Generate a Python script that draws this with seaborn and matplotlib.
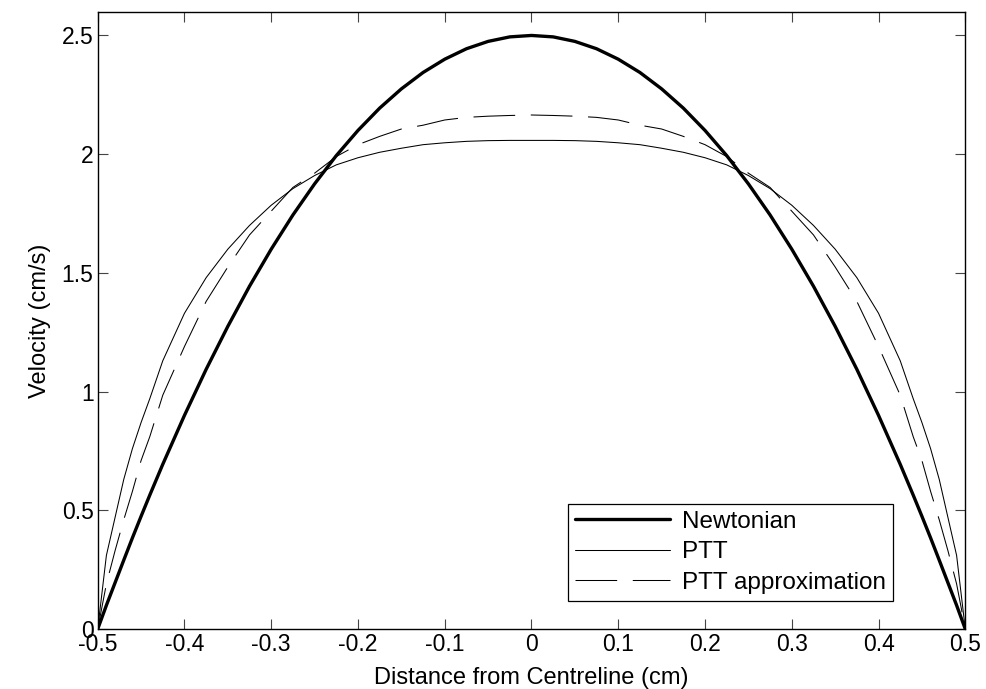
import numpy as np
import pandas as pd
import matplotlib
matplotlib.use("Agg")
import matplotlib.pyplot as plt
import seaborn as sns

# Distance from centreline (cm)
x = [-0.5, -0.49, -0.48, -0.47, -0.46, -0.45, -0.44, -0.425, -0.4, -0.375, -0.35,
     -0.325, -0.3, -0.275, -0.25, -0.225, -0.2, -0.175, -0.15, -0.125, -0.1,
     -0.075, -0.05, -0.025, 0.0, 0.025, 0.05, 0.075, 0.1, 0.125, 0.15, 0.175,
     0.2, 0.225, 0.25, 0.275, 0.3, 0.325, 0.35, 0.375, 0.4, 0.425, 0.44, 0.45,
     0.46, 0.47, 0.48, 0.49, 0.5]

newtonian = [0.0, 0.10, 0.195, 0.29, 0.384, 0.475, 0.564, 0.694, 0.90, 1.094, 1.275,
             1.444, 1.60, 1.744, 1.875, 1.994, 2.10, 2.194, 2.275, 2.344, 2.40,
             2.444, 2.475, 2.494, 2.50, 2.494, 2.475, 2.444, 2.40, 2.344, 2.275, 2.194,
             2.10, 1.994, 1.875, 1.744, 1.60, 1.444, 1.275, 1.094, 0.90, 0.694, 0.564, 0.475,
             0.384, 0.29, 0.195, 0.10, 0.0]

ptt = [0.0, 0.31, 0.47, 0.63, 0.76, 0.87, 0.97, 1.13, 1.33, 1.48, 1.60,
       1.70, 1.785, 1.855, 1.91, 1.955, 1.985, 2.008, 2.025, 2.04, 2.048,
       2.054, 2.057, 2.058, 2.058, 2.058, 2.057, 2.054, 2.048, 2.04, 2.025, 2.008,
       1.985, 1.955, 1.91, 1.855, 1.785, 1.70, 1.60, 1.48, 1.33, 1.13, 0.97, 0.87,
       0.76, 0.63, 0.47, 0.31, 0.0]

ptt_approx = [0.0, 0.19, 0.33, 0.46, 0.58, 0.71, 0.81, 0.985, 1.19, 1.38, 1.525,
              1.66, 1.76, 1.86, 1.92, 1.99, 2.04, 2.075, 2.106, 2.122, 2.144,
              2.155, 2.16, 2.163, 2.165, 2.163, 2.16, 2.155, 2.144, 2.122, 2.106, 2.075,
              2.04, 1.99, 1.92, 1.86, 1.76, 1.66, 1.525, 1.38, 1.19, 0.985, 0.81, 0.71,
              0.58, 0.46, 0.33, 0.19, 0.0]

series_names = ["Newtonian", "PTT", "PTT approximation"]
x_ticks = [-0.5, -0.4, -0.3, -0.2, -0.1, 0, 0.1, 0.2, 0.3, 0.4, 0.5]
x_tick_labels = ["-0.5", "-0.4", "-0.3", "-0.2", "-0.1", "0", "0.1", "0.2", "0.3", "0.4", "0.5"]
y_ticks = [0, 0.5, 1, 1.5, 2, 2.5]
y_tick_labels = ["0", "0.5", "1", "1.5", "2", "2.5"]

df = pd.DataFrame({
    "x": x * 3,
    "y": newtonian + ptt + ptt_approx,
    "series": [series_names[0]] * len(x) + [series_names[1]] * len(x) + [series_names[2]] * len(x),
})

sns.set_theme(style="white")
plt.rcParams["font.family"] = ["Liberation Sans", "DejaVu Sans"]
plt.rcParams["text.color"] = "black"
plt.rcParams["axes.labelcolor"] = "black"
plt.rcParams["xtick.direction"] = "in"
plt.rcParams["ytick.direction"] = "in"

fig = plt.figure(figsize=(9.87, 6.89), dpi=100)
ax = fig.add_axes([0.099, 0.087, 0.879, 0.896])

styles = {
    "Newtonian": dict(lw=2.4, dashes=None),
    "PTT": dict(lw=0.75, dashes=None),
    "PTT approximation": dict(lw=0.75, dashes=(40, 15)),
}
for name in series_names:
    sub = df[df["series"] == name]
    st = styles[name]
    sns.lineplot(data=sub, x="x", y="y", ax=ax, color="black", lw=st["lw"],
                 label=name, estimator=None, sort=False)
    if st["dashes"] is not None:
        ax.lines[-1].set_dashes(st["dashes"])

ax.set_xlim(-0.5, 0.5)
ax.set_ylim(0, 2.6)
ax.set_xticks(x_ticks)
ax.set_xticklabels(x_tick_labels)
ax.set_yticks(y_ticks)
ax.set_yticklabels(y_tick_labels)
ax.tick_params(axis="both", which="both", direction="in", length=7, width=0.8,
               color="#444444", labelcolor="black", labelsize=16.5, top=True, right=True,
               bottom=True, left=True, pad=3)
for sp in ax.spines.values():
    sp.set_visible(True)
    sp.set_color("black")
    sp.set_linewidth(1.0)

ax.set_xlabel("Distance from Centreline (cm)", fontsize=17, labelpad=8)
ax.set_ylabel("Velocity (cm/s)", fontsize=17, labelpad=8)

leg = ax.legend(loc="lower right", bbox_to_anchor=(0.917, 0.045), fontsize=17.5,
                frameon=True, fancybox=False, edgecolor="black", framealpha=1,
                handlelength=3.9, borderpad=0.3, labelspacing=0.35, handletextpad=0.5,
                borderaxespad=0)
leg.get_frame().set_linewidth(0.9)
for t in leg.get_texts():
    t.set_color("black")

fig.savefig("out.png", dpi=100)
